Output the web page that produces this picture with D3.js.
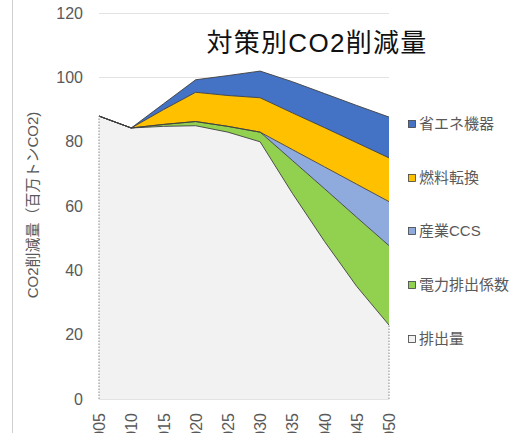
<!DOCTYPE html>
<html>
<head>
<meta charset="utf-8">
<script src="https://cdn.jsdelivr.net/npm/d3@7"></script>
<style>
  html, body { margin: 0; padding: 0; background: #fff; }
  svg { display: block; }
  text { font-family: "Liberation Sans", Arial, "Noto Sans CJK JP", sans-serif; }
</style>
</head>
<body>
<svg id="chart" width="530" height="433"></svg>
<script>
// Years on the x axis
const years = [2005, 2010, 2015, 2020, 2025, 2030, 2035, 2040, 2045, 2050];

// Stacked series (百万トンCO2), bottom to top
const emissions    = [88, 84.3, 84.8, 85, 83, 80, 64, 49, 35, 23];      // 排出量
const powerFactor  = [0, 0, 0.6, 1.3, 1.8, 3, 10.2, 16.4, 21.5, 24.7];  // 電力排出係数
const industryCCS  = [0, 0, 0, 0, 0, 0, 3.4, 6.8, 10.3, 13.7];          // 産業CCS
const fuelSwitch   = [0, 0, 4.6, 9.1, 9.6, 10.7, 11.4, 12.2, 12.9, 13.6]; // 燃料転換
const efficientEq  = [0, 0, 1.8, 3.9, 6.2, 8.3, 9.7, 10.6, 11.6, 12.7];  // 省エネ機器

const seriesNames  = ["排出量", "電力排出係数", "産業CCS", "燃料転換", "省エネ機器"];
const seriesColors = ["#F2F2F2", "#92D050", "#8FAADC", "#FFC000", "#4472C4"];
const seriesValues = [emissions, powerFactor, industryCCS, fuelSwitch, efficientEq];

const yTicks = [0, 20, 40, 60, 80, 100, 120];

const title = "対策別CO2削減量";
const yTitle = "CO2削減量（百万トンCO2)";

const svg = d3.select("#chart");

const x = d3.scaleLinear().domain([2005, 2050]).range([99, 389]);
const y = d3.scaleLinear().domain([0, 120]).range([399, 13.2]);

// Frame line on the left edge
svg.append("line")
  .attr("x1", 12.5).attr("x2", 12.5).attr("y1", 0).attr("y2", 433)
  .attr("stroke", "#d0d0d0").attr("stroke-width", 1);

// Gridlines
svg.append("g").selectAll("line").data(yTicks).join("line")
  .attr("x1", x(2005)).attr("x2", x(2050))
  .attr("y1", d => Math.round(y(d)) + 0.5).attr("y2", d => Math.round(y(d)) + 0.5)
  .attr("stroke", "#e3e3e3").attr("stroke-width", 1);

// Stack the series
const table = years.map((yr, i) => {
  const row = { year: yr };
  seriesNames.forEach((n, k) => { row[n] = seriesValues[k][i]; });
  return row;
});
const stacked = d3.stack().keys(seriesNames)(table);

const area = d3.area()
  .x(d => x(d.data.year))
  .y0(d => y(d[0]))
  .y1(d => y(d[1]));

const topLine = d3.line()
  .x(d => x(d.data.year))
  .y(d => y(d[1]));

const layers = svg.append("g");
stacked.forEach((s, k) => {
  layers.append("path")
    .attr("d", area(s))
    .attr("fill", seriesColors[k]);
});
stacked.forEach((s, k) => {
  layers.append("path")
    .attr("d", topLine(s))
    .attr("fill", "none")
    .attr("stroke", "#3f3f3f")
    .attr("stroke-width", 0.9)
    .attr("stroke-linejoin", "round");
});

// Dotted edges of the emissions area
[0, years.length - 1].forEach(i => {
  svg.append("line")
    .attr("x1", x(years[i])).attr("x2", x(years[i]))
    .attr("y1", y(0)).attr("y2", y(emissions[i]))
    .attr("stroke", "#8a8a8a").attr("stroke-width", 1)
    .attr("stroke-dasharray", "1.5,1.5");
});

// Y axis tick labels
const yAxis = d3.axisLeft(y).tickValues(yTicks).tickSize(0).tickPadding(0);
const gy = svg.append("g").attr("transform", "translate(83,0)").call(yAxis);
gy.select(".domain").remove();
gy.selectAll("text")
  .attr("fill", "#595959")
  .style("font-size", "16px")
  .style("font-family", "'Liberation Sans', Arial, sans-serif");

// X axis tick labels (rotated, running past the bottom edge)
const xAxis = d3.axisBottom(x).tickValues(years).tickFormat(d3.format("d")).tickSize(0).tickPadding(0);
const gx = svg.append("g").attr("transform", "translate(0,413)").call(xAxis);
gx.select(".domain").remove();
gx.selectAll("text")
  .attr("fill", "#595959")
  .style("font-size", "16px")
  .style("font-family", "'Liberation Sans', Arial, sans-serif")
  .attr("text-anchor", "end")
  .attr("dy", "0.35em")
  .attr("y", 0)
  .attr("transform", "rotate(-90)");

// Y axis title
svg.append("text")
  .attr("transform", "translate(38,205) rotate(-90)")
  .attr("text-anchor", "middle")
  .attr("fill", "#595959")
  .style("font-size", "15px")
  .text(yTitle);

// Chart title
svg.append("text")
  .attr("x", 317).attr("y", 52)
  .attr("text-anchor", "middle")
  .attr("fill", "#111")
  .style("font-size", "26px")
  .style("letter-spacing", "1.3px")
  .text(title);

// Legend (top series first)
const legendItems = seriesNames.map((n, k) => ({ name: n, color: seriesColors[k] })).reverse();
const legendY = [124, 178, 231, 285, 339];
const lg = svg.append("g");
legendItems.forEach((d, i) => {
  lg.append("rect")
    .attr("x", 408.5).attr("y", legendY[i] - 3.5)
    .attr("width", 7).attr("height", 7)
    .attr("fill", d.color)
    .attr("stroke", "#404040").attr("stroke-width", 0.8);
  lg.append("text")
    .attr("x", 419).attr("y", legendY[i])
    .attr("dy", "0.36em")
    .attr("fill", "#595959")
    .style("font-size", "15px")
    .text(d.name);
});
</script>
</body>
</html>
